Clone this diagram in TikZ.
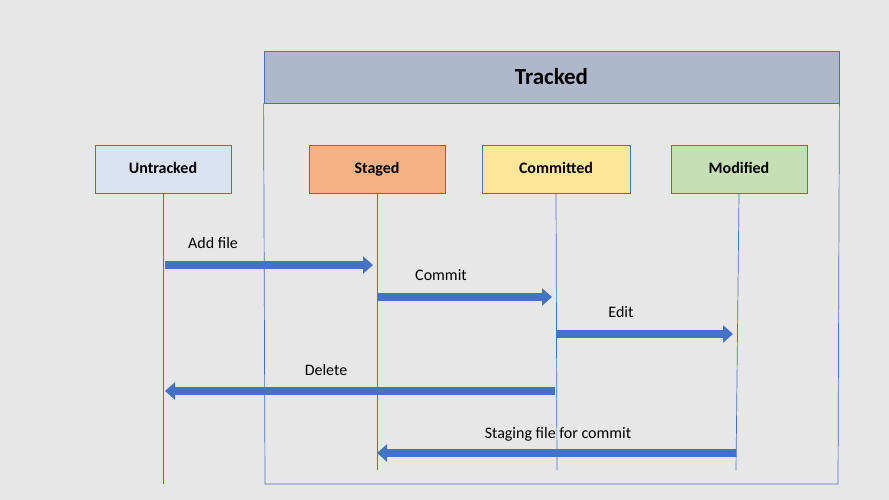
\documentclass[tikz,border=0pt]{standalone}
\usepackage{fontspec}
\setmainfont{Carlito}
\usetikzlibrary{arrows.meta}
\definecolor{bg}{HTML}{E7E7E7}
\definecolor{edge}{HTML}{4472C4}
\definecolor{trackfill}{HTML}{ADB9CA}
\definecolor{untrackfill}{HTML}{DAE3F3}
\definecolor{stagefill}{HTML}{F4B183}
\definecolor{commitfill}{HTML}{FFE699}
\definecolor{modfill}{HTML}{C5E0B4}
\tikzset{
	state/.style={draw=edge,line width=0.8pt,minimum width=136pt,minimum height=48pt,text height=11pt,text depth=3pt,font=\bfseries\fontsize{16}{18}\selectfont},
	life/.style={draw=edge,line width=0.7pt},
	flow/.style={draw=edge,line width=7.5pt,-{Triangle[width=17pt,length=10pt]}},
	lbl/.style={font=\fontsize{16}{18}\selectfont}
}
\begin{document}
\begin{tikzpicture}[x=1pt,y=-1pt]
	\fill[bg] (0,0) rectangle (889,500);
	\useasboundingbox (0,0) rectangle (889,500);
	\node[draw=edge,line width=0.8pt,fill=trackfill,minimum width=575pt,minimum height=52pt,font=\bfseries\fontsize{23}{26}\selectfont] (tracked) at (551.5,77) {Tracked};
	\coordinate (tr-bl) at (265,484);
	\coordinate (tr-br) at (838,484);
	\draw[life] (tracked.south west) -- (tr-bl) -- (tr-br) -- (tracked.south east);
	\node[state,fill=untrackfill] (untracked) at (163,169) {Untracked};
	\node[state,fill=stagefill] (staged) at (377,169.5) {Staged};
	\node[state,fill=commitfill,minimum width=148pt] (committed) at (556,169.5) {Committed};
	\node[state,fill=modfill] (modified) at (739,169.5) {Modified};
	\coordinate (unt-end) at (163,484);
	\coordinate (stg-end) at (377,470);
	\coordinate (com-end) at (557,470);
	\coordinate (mod-end) at (736,470);
	\draw[life] (untracked.south) -- (unt-end);
	\draw[life] (staged.south) -- (stg-end);
	\draw[life] (committed.south) -- (com-end);
	\draw[life] (modified.south) -- (mod-end);
	\coordinate (add-a) at (165,265);
	\coordinate (add-b) at (373,265);
	\draw[flow] (add-a) -- (add-b);
	\node[lbl] (addfile) at (213,243) {Add file};
	\coordinate (cmt-a) at (377,297);
	\coordinate (cmt-b) at (552,297);
	\draw[flow] (cmt-a) -- (cmt-b);
	\node[lbl] (commit) at (441,275) {Commit};
	\coordinate (edt-a) at (557,334);
	\coordinate (edt-b) at (733,334);
	\draw[flow] (edt-a) -- (edt-b);
	\node[lbl] (edit) at (621,312) {Edit};
	\coordinate (del-a) at (555,391);
	\coordinate (del-b) at (165,391);
	\draw[flow] (del-a) -- (del-b);
	\node[lbl] (delete) at (326,370) {Delete};
	\coordinate (stf-a) at (736,453);
	\coordinate (stf-b) at (377,453);
	\draw[flow] (stf-a) -- (stf-b);
	\node[lbl] (stagefile) at (558,434) {Staging file for commit};
\end{tikzpicture}
\end{document}
